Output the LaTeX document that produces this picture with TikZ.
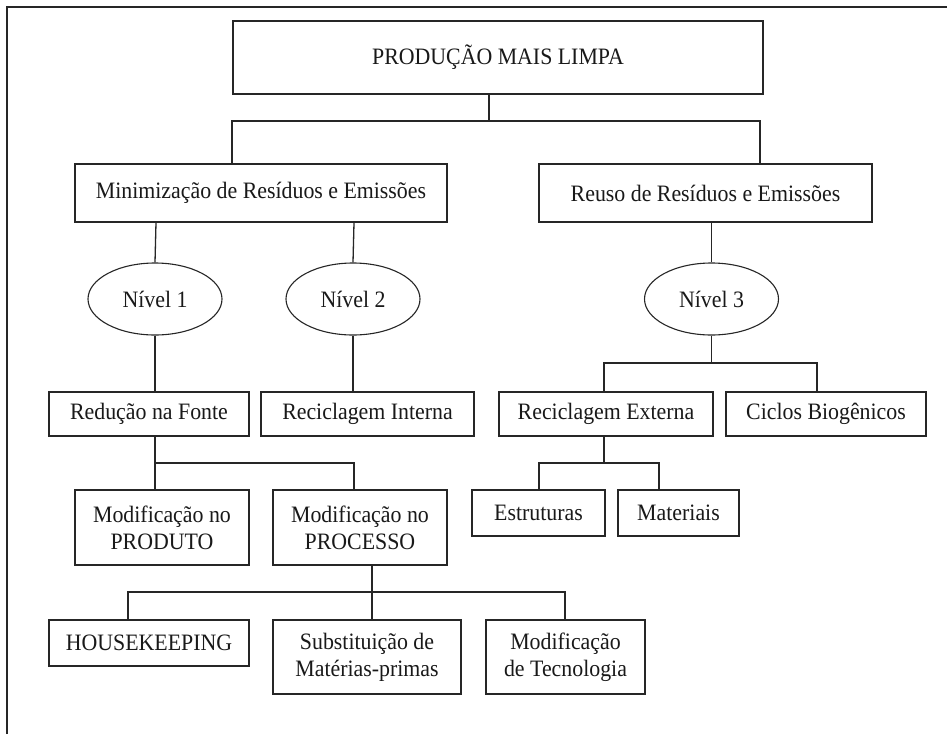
\documentclass[tikz,border=0pt]{standalone}
\usepackage{fontspec}
\setmainfont{Liberation Serif}[FakeStretch=0.93]
\usetikzlibrary{shapes.geometric,shadows}
\begin{document}
\begin{tikzpicture}[x=1pt,y=-1pt,
  every node/.style={font=\fontsize{23.5}{27}\selectfont, text=black!90},
  bx/.style={draw=black!85, line width=1.3pt, fill=white, rectangle, inner sep=0pt, align=center,
     drop shadow={shadow xshift=1pt, shadow yshift=-1pt, fill=black!75, opacity=1}},
  el/.style={draw=black!85, line width=1.1pt, fill=white, ellipse, inner sep=0pt, minimum width=134pt, minimum height=72pt},
  ln/.style={draw=black!85, line width=1.3pt}]
\useasboundingbox (0,0) rectangle (947,734);
\fill[white] (0,0) rectangle (947,734);
% frame
\coordinate (fA) at (7,734);
\coordinate (fB) at (7,7);
\coordinate (fC) at (947,7);
\draw[ln] (fA) -- (fB) -- (fC);
% boxes
\node[bx, minimum width=530pt, minimum height=73pt] (top) at (498,57.5) {PRODUÇÃO MAIS LIMPA};
\node[bx, minimum width=372pt, minimum height=58pt] (mini) at (261,193) {Minimização de Resíduos e Emissões};
\node[bx, minimum width=333pt, minimum height=58pt] (reuso) at (705.5,193) {Reuso de Resíduos e Emissões};
\node[el] (n1) at (155,299) {Nível 1};
\node[el] (n2) at (353,299) {Nível 2};
\node[el] (n3) at (711.5,299) {Nível 3};
\node[bx, minimum width=200pt, minimum height=44pt] (reduc) at (149,414) {Redução na Fonte};
\node[bx, minimum width=213pt, minimum height=44pt] (recint) at (367.5,414) {Reciclagem Interna};
\node[bx, minimum width=214pt, minimum height=44pt] (recext) at (606,414) {Reciclagem Externa};
\node[bx, minimum width=200pt, minimum height=44pt] (ciclos) at (826,414) {Ciclos Biogênicos};
\node[bx, minimum width=174pt, minimum height=75pt] (prod) at (162,527.5) {Modificação no\\PRODUTO};
\node[bx, minimum width=174pt, minimum height=75pt] (proc) at (360,527.5) {Modificação no\\PROCESSO};
\node[bx, minimum width=133pt, minimum height=46pt] (estr) at (538.5,513) {Estruturas};
\node[bx, minimum width=121pt, minimum height=46pt] (mat) at (678.5,513) {Materiais};
\node[bx, minimum width=200pt, minimum height=46pt] (house) at (149,643) {HOUSEKEEPING};
\node[bx, minimum width=188pt, minimum height=74pt] (subst) at (367,657) {Substituição de\\Matérias-primas};
\node[bx, minimum width=159pt, minimum height=74pt] (tecno) at (565.5,657) {Modificação\\de Tecnologia};
% connectors
\draw[ln] (top.south -| 489,0) -- (489,121);
\draw[ln] (mini.north -| 232,0) -- (232,121) -- (760,121) -- (reuso.north -| 760,0);
\draw[ln] (mini.south -| 156,0) -- (n1.north);
\draw[ln] (mini.south -| 354,0) -- (n2.north);
\draw[ln] (reuso.south -| 711.5,0) -- (n3.north);
\draw[ln] (n1.south) -- (reduc.north -| n1.south);
\draw[ln] (n2.south) -- (recint.north -| n2.south);
\draw[ln] (n3.south) -- (711.5,363);
\draw[ln] (recext.north -| 604,0) -- (604,363) -- (817,363) -- (ciclos.north -| 817,0);
\draw[ln] (reduc.south -| 155,0) -- (155,463);
\draw[ln] (prod.north -| 155,0) -- (155,463) -- (354,463) -- (proc.north -| 354,0);
\draw[ln] (recext.south -| 604,0) -- (604,463);
\draw[ln] (estr.north -| 539,0) -- (539,463) -- (659,463) -- (mat.north -| 659,0);
\draw[ln] (proc.south -| 372,0) -- (subst.north -| 372,0);
\draw[ln] (house.north -| 128,0) -- (128,592) -- (565,592) -- (tecno.north -| 565,0);
\end{tikzpicture}
\end{document}
